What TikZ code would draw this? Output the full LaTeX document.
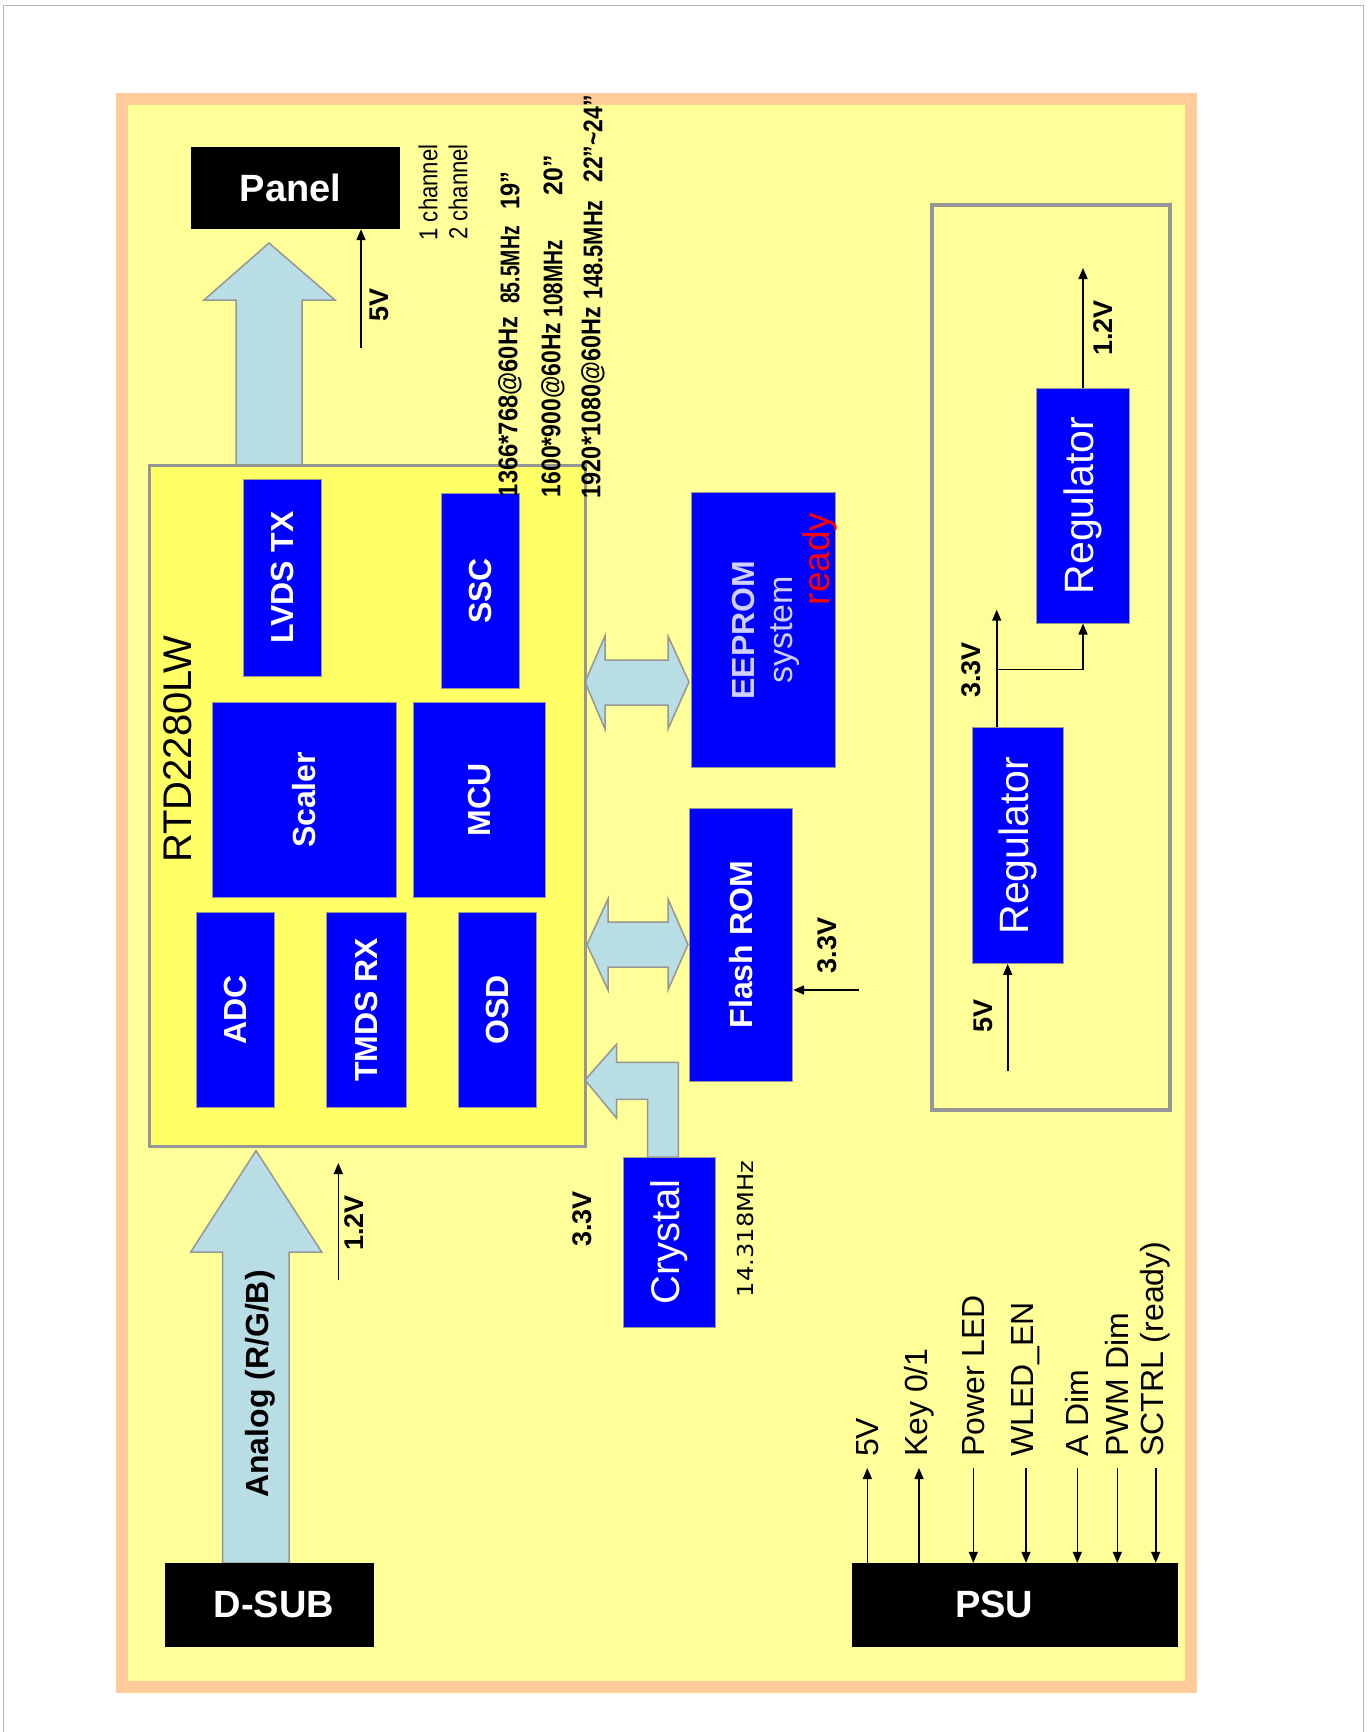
\documentclass[tikz,border=0pt]{standalone}
\usepackage{fontspec}
\setmainfont{Liberation Sans}
\newfontfamily\dejavu{DejaVu Sans}
\usepackage{graphicx}
\usetikzlibrary{arrows.meta}
\definecolor{bgyellow}{RGB}{255,255,153}
\definecolor{chipyellow}{RGB}{255,255,102}
\definecolor{frameorange}{RGB}{255,204,153}
\definecolor{fatblue}{RGB}{185,221,228}
\definecolor{edgegray}{RGB}{150,150,150}
\definecolor{lav}{RGB}{206,206,255}
\newcommand{\rt}[1]{\rotatebox{90}{#1}}
\newcommand{\fs}[1]{\fontsize{#1}{#1}\selectfont}
\begin{document}
\begin{tikzpicture}[x=1pt,y=-1pt,
  bluebox/.style={draw=edgegray, line width=1pt, fill=blue, text=white, inner sep=0pt, font=\fs{32}\bfseries},
  blackbox/.style={fill=black, text=white, inner sep=0pt, font=\fs{38}\bfseries},
  fat/.style={fill=fatblue, draw=edgegray, line width=1.5pt, line join=miter},
  arr/.style={line width=1.6pt, -{Triangle[length=11pt,width=9pt]}},
  wire/.style={line width=1.6pt},
  volt/.style={font=\fs{27}\bfseries, inner sep=0pt},
  pinlab/.style={anchor=south, inner sep=0pt, font=\fs{32}},
  res/.style={font=\fs{27}\bfseries, inner sep=0pt},
  chan/.style={font=\fs{26}, inner sep=0pt},
]
\useasboundingbox (0,0) rectangle (1368,1732);
\fill[white] (0,0) rectangle (1368,1732);
\draw[gray!60, line width=1.5pt] (3.3,1732) -- (3.3,5.5) -- (1363.5,5.5) -- (1363.5,1732);
\fill[frameorange] (116,93) rectangle (1197,1693);
\fill[bgyellow] (128,105) rectangle (1185,1681);

% fat arrows
\draw[fat] (236,467) -- (236,300) -- (204,300) -- (269,243) -- (335,300) -- (302,300) -- (302,467) -- cycle;
\draw[fat] (222.7,1563) -- (222.7,1252) -- (190.7,1252) -- (256,1150.7) -- (321.7,1252) -- (289,1252) -- (289,1563) -- cycle;
\draw[fat] (585,682) -- (605,636) -- (605,660) -- (668,660) -- (668,636) -- (689,682) -- (668,729) -- (668,705) -- (605,705) -- (605,729) -- cycle;
\draw[fat] (587,944.5) -- (608,899) -- (608,922) -- (668,922) -- (668,899) -- (688,944.5) -- (668,990) -- (668,967) -- (608,967) -- (608,990) -- cycle;
\draw[fat] (585,1080) -- (616.7,1044) -- (616.7,1062.3) -- (678.3,1062.3) -- (678.3,1157) -- (647.7,1157) -- (647.7,1099.3) -- (616.7,1099.3) -- (616.7,1118.3) -- cycle;

% main chip
\node[draw=edgegray, line width=3pt, fill=chipyellow, minimum width=435.7pt, minimum height=680.4pt, inner sep=0pt] (rtd) at (367.15,805.8) {};
\node[font=\fs{40}, inner sep=0pt] (rtdlab) at (178,749) {\rt{RTD2280LW}};
\node[bluebox, minimum width=78.4pt, minimum height=197pt] (lvds) at (282.5,577.5) {\rt{LVDS TX}};
\node[bluebox, minimum width=78.3pt, minimum height=195.5pt] (ssc) at (480.15,591.05) {\rt{SSC}};
\node[bluebox, minimum width=183.7pt, minimum height=195.8pt] (scaler) at (304.15,799.9) {\rt{Scaler}};
\node[bluebox, minimum width=131.7pt, minimum height=195.8pt] (mcu) at (479.15,799.9) {\rt{MCU}};
\node[bluebox, minimum width=78pt, minimum height=195.6pt] (adc) at (235.7,1009.8) {\rt{ADC}};
\node[bluebox, minimum width=80pt, minimum height=195.6pt] (tmds) at (366.7,1009.8) {\rt{TMDS RX}};
\node[bluebox, minimum width=78.4pt, minimum height=195.6pt] (osd) at (497.5,1009.8) {\rt{OSD}};

% peripherals
\node[bluebox, minimum width=144pt, minimum height=275.1pt] (eeprom) at (763,630.15) {};
\node[font=\fs{32}\bfseries, text=lav, inner sep=0pt] (eetxt) at (743,630) {\rt{EEPROM}};
\node[font=\fs{34}, text=lav, inner sep=0pt] (systxt) at (785,630) {\rt{system}};
\node[font=\fs{37}, text=red, inner sep=0pt] (ready) at (820,559) {\rt{ready}};
\node[bluebox, minimum width=103.7pt, minimum height=273.6pt] (flash) at (740.85,944.8) {\rt{Flash ROM}};
\node[bluebox, font=\fs{40}\mdseries, minimum width=92pt, minimum height=170pt] (crystal) at (669,1242) {\rt{Crystal}};
\node[inner sep=0pt, font=\dejavu\fs{22}] (freq) at (745,1229) {\rt{\scalebox{1.1}[1]{14.318MHz}}};
\node[volt] (v33c) at (582,1219) {\rt{3.3V}};

% connectors boxes
\node[blackbox, minimum width=209pt, minimum height=82pt] (panel) at (295.5,188) {\hspace*{-10pt}Panel};
\node[blackbox, minimum width=209pt, minimum height=83.5pt] (dsub) at (269.5,1604.75) {D-SUB\hspace*{-9pt}};
\node[blackbox, minimum width=326.3pt, minimum height=83.7pt] (psu) at (1014.85,1604.85) {\hspace*{-41pt}PSU};
\node[font=\fs{32}\bfseries, inner sep=0pt] (analog) at (260,1384) {\rt{Analog (R/G/B)}};

% thin arrows
\coordinate (p5) at (361,348);
\draw[arr] (p5) -- (p5 |- panel.south);
\node[volt] (v5p) at (379,305) {\rt{5V}};
\coordinate (d12) at (338.3,1280);
\coordinate (d12t) at (338.3,1163);
\draw[arr] (d12) -- (d12t);
\node[volt] (v12d) at (354,1223) {\rt{1.2V}};
\coordinate (f33) at (859,990);
\draw[arr] (f33) -- (f33 -| flash.east);
\node[volt] (v33f) at (827.5,945.5) {\rt{3.3V}};

% resolution notes
\node[chan] (ch1) at (428,192.5) {\rt{\scalebox{0.85}[1]{1 channel}}};
\node[chan] (ch2) at (458,192) {\rt{\scalebox{0.85}[1]{2 channel}}};
\node[res] (r1a) at (510,407) {\rt{\scalebox{0.88}[1]{1366*768@60Hz}}};
\node[res] (r1b) at (510,265) {\rt{\scalebox{0.72}[1]{85.5MHz}}};
\node[res] (r1c) at (510,191) {\rt{\scalebox{0.87}[1]{19”}}};
\node[res] (r2a) at (553,410) {\rt{\scalebox{0.85}[1]{1600*900@60Hz}}};
\node[res] (r2b) at (553,278.5) {\rt{\scalebox{0.77}[1]{108MHz}}};
\node[res] (r2c) at (553,175) {\rt{\scalebox{0.92}[1]{20”}}};
\node[res] (r3a) at (593,402.5) {\rt{\scalebox{0.87}[1]{1920*1080@60Hz}}};
\node[res] (r3b) at (593,250) {\rt{\scalebox{0.81}[1]{148.5MHz}}};
\node[res] (r3c) at (593,139) {\rt{\scalebox{0.85}[1]{22”\textasciitilde 24”}}};

% regulators
\node[draw=edgegray, line width=4pt, minimum width=238.3pt, minimum height=905pt, inner sep=0pt] (regbox) at (1050.85,657.5) {};
\node[bluebox, font=\fs{41}\mdseries, minimum width=90.6pt, minimum height=235.6pt] (reg1) at (1018,845.6) {\rt{Regulator}};
\node[bluebox, font=\fs{41}\mdseries, minimum width=92.6pt, minimum height=235pt] (reg2) at (1083,505.5) {\rt{Regulator}};
\coordinate (r5) at (1007.7,1071);
\draw[arr] (r5) -- (r5 |- reg1.south);
\node[volt] (v5r) at (983,1016) {\rt{5V}};
\coordinate (r33) at (996.7,609.7);
\draw[arr] (r33 |- reg1.north) -- (r33);
\coordinate (br) at (996.7,669.6);
\draw[arr] (br) -- (br -| reg2.south) -- (reg2.south);
\node[volt] (v33r) at (971,670) {\rt{3.3V}};
\coordinate (r12) at (1083,268);
\draw[arr] (reg2.north) -- (r12);
\node[volt] (v12r) at (1103,328) {\rt{1.2V}};

% PSU pins
\coordinate (q1) at (867.3,1468);
\coordinate (q2) at (919,1468);
\coordinate (q3) at (973.3,1468);
\coordinate (q4) at (1026,1468);
\coordinate (q5) at (1077.3,1468);
\coordinate (q6) at (1117.3,1468);
\coordinate (q7) at (1155.7,1468);
\draw[arr] (q1 |- psu.north) -- (q1);
\draw[arr] (q2 |- psu.north) -- (q2);
\draw[arr] (q3) -- (q3 |- psu.north);
\draw[arr] (q4) -- (q4 |- psu.north);
\draw[arr] (q5) -- (q5 |- psu.north);
\draw[arr] (q6) -- (q6 |- psu.north);
\draw[arr] (q7) -- (q7 |- psu.north);
\node[pinlab] (l1) at (867.3,1457) {\rt{5V}};
\node[pinlab] (l2) at (919,1457) {\rt{Key 0/1}};
\node[pinlab] (l3) at (973.3,1457) {\rt{Power LED}};
\node[pinlab] (l4) at (1026,1457) {\rt{WLED\_EN}};
\node[pinlab] (l5) at (1077.3,1457) {\rt{A Dim}};
\node[pinlab] (l6) at (1117.3,1457) {\rt{PWM Dim}};
\node[pinlab] (l7) at (1155.7,1457) {\rt{SCTRL (ready)}};
\end{tikzpicture}
\end{document}
